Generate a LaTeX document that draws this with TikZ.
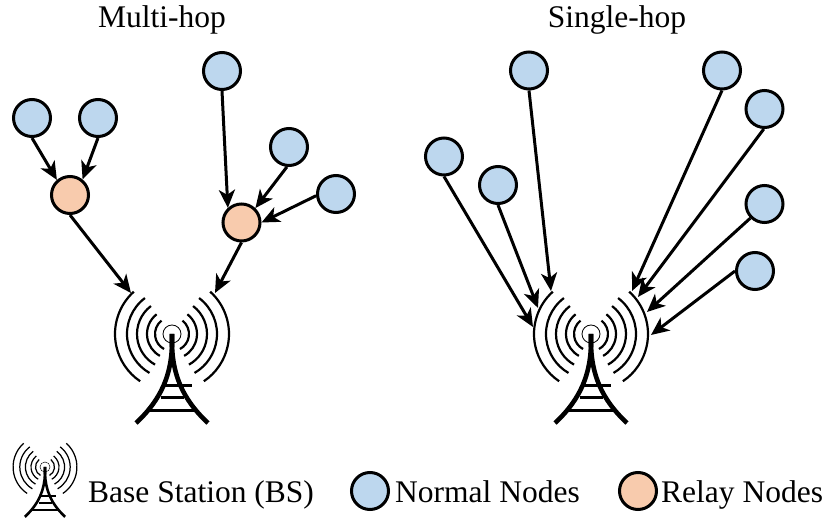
\documentclass[tikz,border=0pt]{standalone}
\usepackage{fontspec}
\setmainfont{Liberation Serif}
\usetikzlibrary{arrows.meta}
\definecolor{NormalBlue}{HTML}{BDD7EE}
\definecolor{RelayOrange}{HTML}{F8CBAD}
\tikzset{
    normal/.style={circle,draw,fill=NormalBlue,line width=3pt,minimum size=37pt,inner sep=0pt},
    relay/.style={circle,draw,fill=RelayOrange,line width=3pt,minimum size=37pt,inner sep=0pt},
    link/.style={line width=3pt,-{Stealth[length=18pt,width=16pt,inset=5pt]}},
    title/.style={inner sep=0pt,anchor=base,font=\fontsize{31.5}{36}\selectfont},
    legend/.style={inner sep=0pt,anchor=base west,font=\fontsize{31.5}{36}\selectfont}
}
% x, y, scale
\newcommand{\BStower}[3]{
    \begin{scope}[shift={(#1,#2)},scale=#3,line cap=butt]
    %Waves
    \draw [line width=#3*0.8pt] (0,0) circle (9);
    \draw [line width=#3*2.2pt] (128:17) arc [start angle=128,end angle=242,radius=17];
    \draw [line width=#3*2.2pt] (128:25) arc [start angle=128,end angle=241,radius=25];
    \draw [line width=#3*2.2pt] (127:35) arc [start angle=127,end angle=241,radius=35];
    \draw [line width=#3*2.2pt] (127:45) arc [start angle=127,end angle=240,radius=45];
    \draw [line width=#3*2.2pt] (132:57) arc [start angle=132,end angle=236,radius=57];
    \draw [line width=#3*2.2pt] (52:17) arc [start angle=52,end angle=-62,radius=17];
    \draw [line width=#3*2.2pt] (52:25) arc [start angle=52,end angle=-61,radius=25];
    \draw [line width=#3*2.2pt] (53:35) arc [start angle=53,end angle=-61,radius=35];
    \draw [line width=#3*2.2pt] (53:45) arc [start angle=53,end angle=-60,radius=45];
    \draw [line width=#3*2.2pt] (48:57) arc [start angle=48,end angle=-56,radius=57];
    %Mast
    \draw [line width=#3*4.6pt] (0,0) -- (0,-12) .. controls (1,-40) and (10,-65) .. (36,-89);
    \draw [line width=#3*4.6pt] (0,0) -- (0,-12) .. controls (-1,-40) and (-10,-65) .. (-36,-89);
    %Bars
    \draw [line width=#3*3pt] (-7,-52) -- (19.5,-52);
    \draw [line width=#3*3pt] (-11,-64) -- (12,-64);
    \draw [line width=#3*3pt] (-23,-77) -- (23,-77);
    \end{scope}
}
\begin{document}
\begin{tikzpicture}[x=1pt,y=1pt]
    \useasboundingbox (0,0) rectangle (823,-518);
    \node [title] (multi) at (162,-28) {Multi-hop};
    \node [title] (single) at (617,-28) {Single-hop};
    %Towers
    \BStower{172}{-334}{1}
    \BStower{591}{-334}{1}
    \BStower{45}{-467}{0.56}
    %Multi-hop
    \node [normal] (a) at (32,-118) {};
    \node [normal] (b) at (98,-118) {};
    \node [relay] (r1) at (70,-195) {};
    \node [normal] (c) at (222,-71) {};
    \node [normal] (d) at (289,-147) {};
    \node [normal] (e) at (336,-194) {};
    \node [relay] (r2) at (241.5,-222.5) {};
    \coordinate (bsa) at (131,-293);
    \coordinate (bsb) at (215,-293);
    \draw [link] (a.-90) -- (r1.131);
    \draw [link] (b.-90) -- (r1.51);
    \draw [link] (r1.-90) -- (bsa);
    \draw [link] (c.-90) -- (r2.133);
    \draw [link] (d.-96) -- (r2.46);
    \draw [link] (e.185) -- (r2.0);
    \draw [link] (r2.-90) -- (bsb);
    %Single-hop
    \node [normal] (f) at (444,-156.5) {};
    \node [normal] (g) at (498,-185) {};
    \node [normal] (h) at (529,-70.5) {};
    \node [normal] (i) at (722,-70.5) {};
    \node [normal] (j) at (764.5,-109) {};
    \node [normal] (k) at (764.5,-204) {};
    \node [normal] (l) at (755,-271) {};
    \coordinate (bsf) at (533,-327);
    \coordinate (bsg) at (538,-308);
    \coordinate (bsh) at (551,-291);
    \coordinate (bsi) at (632,-291);
    \coordinate (bsj) at (638,-297);
    \coordinate (bsk) at (647,-312);
    \coordinate (bsl) at (651,-335);
    \draw [link] (f.-90) -- (bsf);
    \draw [link] (g.-90) -- (bsg);
    \draw [link] (h.-90) -- (bsh);
    \draw [link] (i.-90) -- (bsi);
    \draw [link] (j.-92) -- (bsj);
    \draw [link] (k.225) -- (bsk);
    \draw [link] (l.180) -- (bsl);
    %Legend
    \node [legend] (bstext) at (88,-503) {Base Station (BS)};
    \node [normal] (normalkey) at (370,-491) {};
    \node [legend] (normaltext) at (395,-503) {Normal Nodes};
    \node [relay] (relaykey) at (638,-491) {};
    \node [legend] (relaytext) at (661,-503) {Relay Nodes};
\end{tikzpicture}
\end{document}
